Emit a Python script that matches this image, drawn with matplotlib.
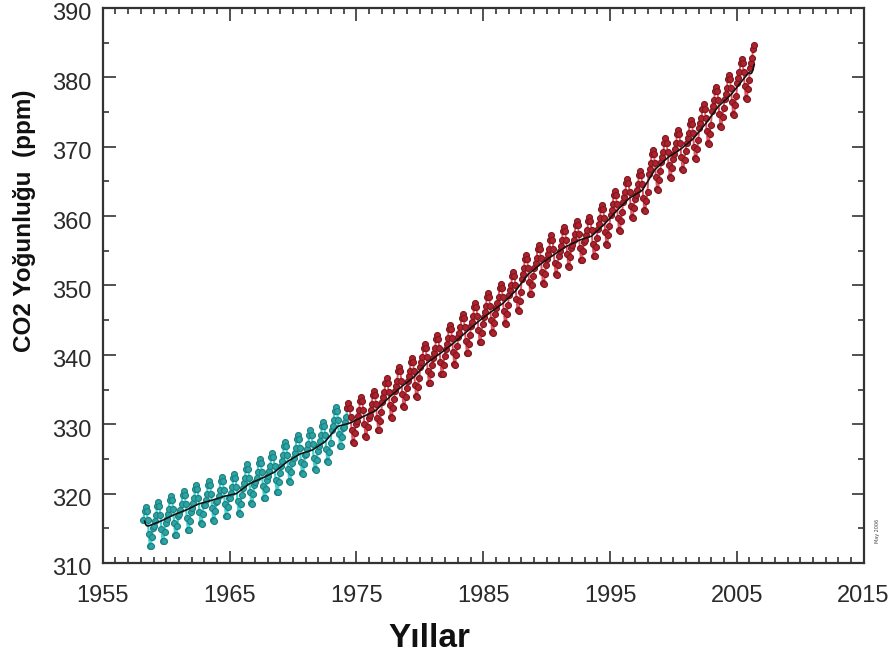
import numpy as np
import pandas as pd
import matplotlib
matplotlib.use("Agg")
import matplotlib.pyplot as plt
import matplotlib.transforms as mtransforms
from matplotlib.ticker import MultipleLocator

# Annual mean CO2 (ppm), 1958-2006
years = list(range(1958, 2007))
annual_mean = [315.3, 316.0, 316.9, 317.6, 318.5, 319.0, 319.6, 320.0, 321.4, 322.2,
               323.1, 324.6, 325.7, 326.3, 327.5, 329.7, 330.2, 331.1, 332.0, 333.8,
               335.4, 336.8, 338.8, 340.1, 341.5, 343.1, 344.7, 346.1, 347.4, 349.2,
               351.6, 353.1, 354.4, 355.6, 356.5, 357.1, 358.8, 360.8, 362.6, 363.7,
               366.7, 368.4, 369.6, 371.1, 373.3, 375.8, 377.5, 379.8, 381.9]
# monthly offset from the annual mean (Jan..Dec)
month_offset = [-0.6, 0.1, 0.9, 2.2, 2.8, 2.2, 0.9, -1.1, -2.8, -2.9, -1.5, -0.2]

start_month = 3      # first record: March 1958
end_month = 5        # last record: May 2006
split_time = 1974.35  # Scripps -> NOAA record

x_ticks = [1955, 1965, 1975, 1985, 1995, 2005, 2015]

rows = []
for y, m_ann in zip(years, annual_mean):
    for mi, off in enumerate(month_offset):
        if y == years[0] and mi + 1 < start_month:
            continue
        if y == years[-1] and mi + 1 > end_month:
            continue
        rows.append({"t": y + (mi + 0.5) / 12.0, "co2": m_ann + off})
df = pd.DataFrame(rows)
df["trend"] = df["co2"].rolling(12, center=True, min_periods=7).mean()

fig = plt.figure(figsize=(8.94, 6.6), dpi=100)
ax = fig.add_axes([0.115, 0.147, 0.851, 0.841])

early = df[df["t"] < split_time]
late = df[df["t"] >= split_time - 1 / 12.0]

ax.plot(early["t"], early["co2"], color="#40d0d0", lw=1.6,
        marker="o", ms=4.3, mfc="#2aa5a5", mec="#1f7f80", mew=0.8, zorder=2)
ax.plot(late["t"], late["co2"], color="#e05060", lw=1.4,
        marker="o", ms=4.3, mfc="#b2202c", mec="#7a1a20", mew=0.8, zorder=2)
ax.plot(df["t"], df["trend"], color="#111111", lw=1.2, zorder=3)

ax.set_xlim(1955, 2015)
ax.set_ylim(310, 390)
ax.set_xticks(x_ticks)
ax.xaxis.set_minor_locator(MultipleLocator(1))
ax.yaxis.set_major_locator(MultipleLocator(10))
ax.yaxis.set_minor_locator(MultipleLocator(5))
ax.tick_params(which="both", direction="in", top=True, right=True,
               colors="#333333", labelcolor="#2a2a2a", width=1.2)
ax.tick_params(which="major", length=9, labelsize=17)
ax.tick_params(axis="x", which="major", pad=16)
ax.tick_params(axis="y", which="major", pad=8)
ax.tick_params(which="minor", length=4.5)
# y labels sit a little below their ticks in the original
shift = mtransforms.ScaledTranslation(0, -4 / 100.0, fig.dpi_scale_trans)
for lab in ax.get_yticklabels():
    lab.set_transform(lab.get_transform() + shift)
for lab in ax.get_xticklabels() + ax.get_yticklabels():
    lab.set_family(["Liberation Sans", "DejaVu Sans"])
for sp in ax.spines.values():
    sp.set_linewidth(1.6)
    sp.set_color("#333333")

fig.text(0.48, 0.032, "Yıllar", fontsize=24, fontweight="bold",
         family=["Liberation Sans", "DejaVu Sans"], ha="center", va="center", color="#111111")
fig.text(0.027, 0.665, "CO2 Yoğunluğu  (ppm)", fontsize=17.5, fontweight="bold",
         family=["Liberation Sans", "DejaVu Sans"], rotation=90,
         ha="center", va="center", color="#111111")
fig.text(0.981, 0.195, "May 2006", fontsize=3.5, rotation=90,
         ha="center", va="center", color="#444444")

fig.savefig("out.png", dpi=100)
